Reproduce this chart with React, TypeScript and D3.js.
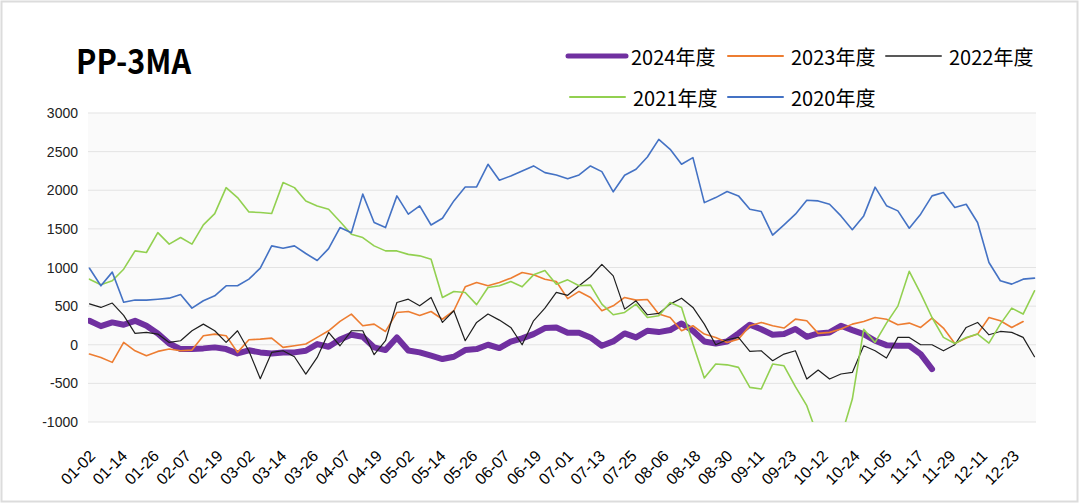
import * as d3 from "d3"

// PP-3MA seasonal chart
const categoryCount = 357

const xTickLabels = [
    "01-02", "01-14", "01-26", "02-07", "02-19", "03-02", "03-14", "03-26", "04-07", "04-19",
    "05-02", "05-14", "05-26", "06-07", "06-19", "07-01", "07-13", "07-25", "08-06", "08-18",
    "08-30", "09-11", "09-23", "10-12", "10-24", "11-05", "11-17", "11-29", "12-11", "12-23",
]
const yTicks = [3000, 2500, 2000, 1500, 1000, 500, 0, -500, -1000]

// samples spread evenly over the year (84 per series)
const s2024 = [
    310, 241, 289, 259, 310, 246, 147, 17, -56, -56, -47, -34, -56, -112,
    -72, -99, -112, -99, -99, -78, 9, -26, 69, 129, 103, -34, -69, 95,
    -75, -99, -142, -185, -155, -69, -56, 0, -43, 39, 82, 138, 216, 224,
    155, 155, 95, -13, 43, 147, 95, 181, 164, 190, 276, 181, 43, 17,
    43, 147, 260, 200, 129, 138, 203, 103, 147, 160, 246, 190, 138, 52,
    -5, -13, -13, -121, -315, null, null, null, null, null, null, null, null, null,
]
const s2023 = [
    -121, -164, -228, 30, -78, -142, -86, -56, -78, -69, 116, 138, 116, -99,
    65, 73, 86, -34, -13, 9, 95, 181, 302, 397, 246, 267, 172, 418,
    431, 380, 430, 330, 440, 750, 806, 763, 806, 862, 935, 905, 849, 819,
    597, 690, 612, 440, 504, 612, 578, 586, 397, 353, 181, 246, 138, 95,
    30, 73, 246, 289, 246, 216, 332, 310, 147, 160, 203, 267, 302, 353,
    330, 259, 280, 224, 345, 216, 17, 86, 138, 353, 310, 224, 300, null,
]
const s2022 = [
    530, 483, 540, 380, 147, 160, 138, 30, 52, 181, 267, 181, 30, 181,
    -80, -440, -99, -78, -155, -380, -164, 160, -13, 181, 181, -129, 52, 547,
    590, 504, 612, 289, 440, 52, 289, 397, 319, 224, 0, 310, 474, 677,
    640, 763, 880, 1040, 892, 461, 569, 388, 405, 526, 603, 483, 267, 0,
    65, 95, -86, -78, -207, -121, -78, -444, -328, -444, -379, -358, -13, -78,
    -172, 95, 95, 0, 0, -78, 0, 224, 289, 129, 172, 160, 95, -155,
]
const s2021 = [
    849, 776, 828, 978, 1215, 1194, 1452, 1302, 1388, 1302, 1552, 1698, 2034, 1905,
    1720, 1711, 1700, 2099, 2034, 1862, 1797, 1754, 1595, 1431, 1388, 1280, 1215, 1215,
    1170, 1151, 1108, 612, 690, 677, 520, 741, 763, 819, 750, 905, 960, 784,
    840, 763, 772, 526, 388, 418, 526, 353, 375, 547, 483, 9, -430, -250,
    -260, -293, -552, -573, -250, -272, -543, -789, -1200, -1250, -1200, -703, 200, 30,
    280, 500, 950, 664, 353, 95, 17, 95, 138, 22, 267, 474, 397, 698,
]
const s2020 = [
    990, 763, 940, 550, 580, 578, 590, 603, 650, 474, 569, 633, 763, 763,
    850, 991, 1280, 1250, 1280, 1181, 1090, 1245, 1517, 1450, 1950, 1582, 1517, 1927,
    1690, 1797, 1550, 1638, 1862, 2043, 2043, 2336, 2129, 2185, 2250, 2315, 2228, 2198,
    2150, 2198, 2314, 2241, 1980, 2194, 2271, 2431, 2659, 2530, 2336, 2422, 1840, 1905,
    1983, 1927, 1754, 1724, 1420, 1552, 1690, 1871, 1862, 1819, 1668, 1490, 1668, 2040,
    1800, 1733, 1508, 1690, 1927, 1970, 1776, 1819, 1582, 1065, 828, 785, 849, 862,
]

const series = [
    { name: "2024年度", values: s2024, color: "#7030A0", width: 6 },
    { name: "2023年度", values: s2023, color: "#ED7D31", width: 1.6 },
    { name: "2022年度", values: s2022, color: "#1f1f1f", width: 1.2 },
    { name: "2021年度", values: s2021, color: "#92D050", width: 1.6 },
    { name: "2020年度", values: s2020, color: "#4472C4", width: 1.6 },
]

const width = 1080
const height = 503
const plot = { left: 88, right: 1036, top: 113, bottom: 422 }
const cjkFont = "'Noto Sans CJK SC', 'Noto Sans', sans-serif"
const tickFont = "'Liberation Sans', Arial, sans-serif"

export default function App() {
    const x = d3.scaleLinear().domain([0, categoryCount - 1]).range([89.5, 1034.5])
    const y = d3.scaleLinear().domain([-1000, 3000]).range([plot.bottom, plot.top])

    const line = (values: (number | null)[]) => {
        const step = (categoryCount - 1) / (values.length - 1)
        return d3
            .line<number | null>()
            .defined((d) => d != null)
            .x((_, i) => x(i * step))
            .y((d) => y(d as number))(values) ?? ""
    }

    // legend layout: two rows
    const legendItems = [
        { s: series[0], lx: 568, ly: 56 },
        { s: series[1], lx: 728, ly: 56 },
        { s: series[2], lx: 886, ly: 56 },
        { s: series[3], lx: 570, ly: 97 },
        { s: series[4], lx: 728, ly: 97 },
    ]

    return (
        <svg
            width={width}
            height={height}
            viewBox={`0 0 ${width} ${height}`}
            style={{ position: "absolute", left: 0, top: 0, background: "#fff" }}
        >
            <defs>
                <clipPath id="plot-clip">
                    <rect x={plot.left} y={plot.top} width={plot.right - plot.left} height={plot.bottom - plot.top} />
                </clipPath>
            </defs>
            <rect x={1.5} y={1.5} width={width - 4} height={height - 3} fill="#fff" stroke="#dcdcdc" strokeWidth={2} />

            <text x={76} y={74} fontFamily={cjkFont} fontWeight={700} fontSize={34} textLength={115} lengthAdjust="spacingAndGlyphs" fill="#000">
                PP-3MA
            </text>

            {legendItems.map(({ s, lx, ly }) => (
                <g key={s.name}>
                    <line
                        x1={lx}
                        x2={lx + (s.width > 3 ? 58 : 55)}
                        y1={ly}
                        y2={ly}
                        stroke={s.name === "2022年度" ? "#595959" : s.color}
                        strokeWidth={s.width > 3 ? 5 : 2}
                        strokeLinecap="round"
                    />
                    <text x={lx + 63} y={ly} dominantBaseline="central" fontFamily={cjkFont} fontSize={20} fill="#000">
                        {s.name}
                    </text>
                </g>
            ))}

            <rect x={plot.left} y={plot.top} width={plot.right - plot.left} height={plot.bottom - plot.top} fill="#fafafa" />
            {yTicks.map((v) => (
                <g key={v}>
                    <line x1={plot.left} x2={plot.right} y1={y(v)} y2={y(v)} stroke="#e3e3e3" strokeWidth={1} />
                    <text x={78} y={y(v)} textAnchor="end" dominantBaseline="central" fontFamily={tickFont} fontSize={14} fill="#222">
                        {v}
                    </text>
                </g>
            ))}

            <g clipPath="url(#plot-clip)">
                {series.map((s) => (
                    <path
                        key={s.name}
                        d={line(s.values)}
                        fill="none"
                        stroke={s.color}
                        strokeWidth={s.width}
                        strokeLinejoin="round"
                        strokeLinecap="round"
                    />
                ))}
            </g>

            {xTickLabels.map((label, i) => (
                <text
                    key={label}
                    transform={`translate(${x(i * 12) + 3},453) rotate(-45)`}
                    textAnchor="end"
                    dominantBaseline="central"
                    fontFamily={tickFont}
                    fontSize={16}
                    fill="#000"
                >
                    {label}
                </text>
            ))}
        </svg>
    )
}
